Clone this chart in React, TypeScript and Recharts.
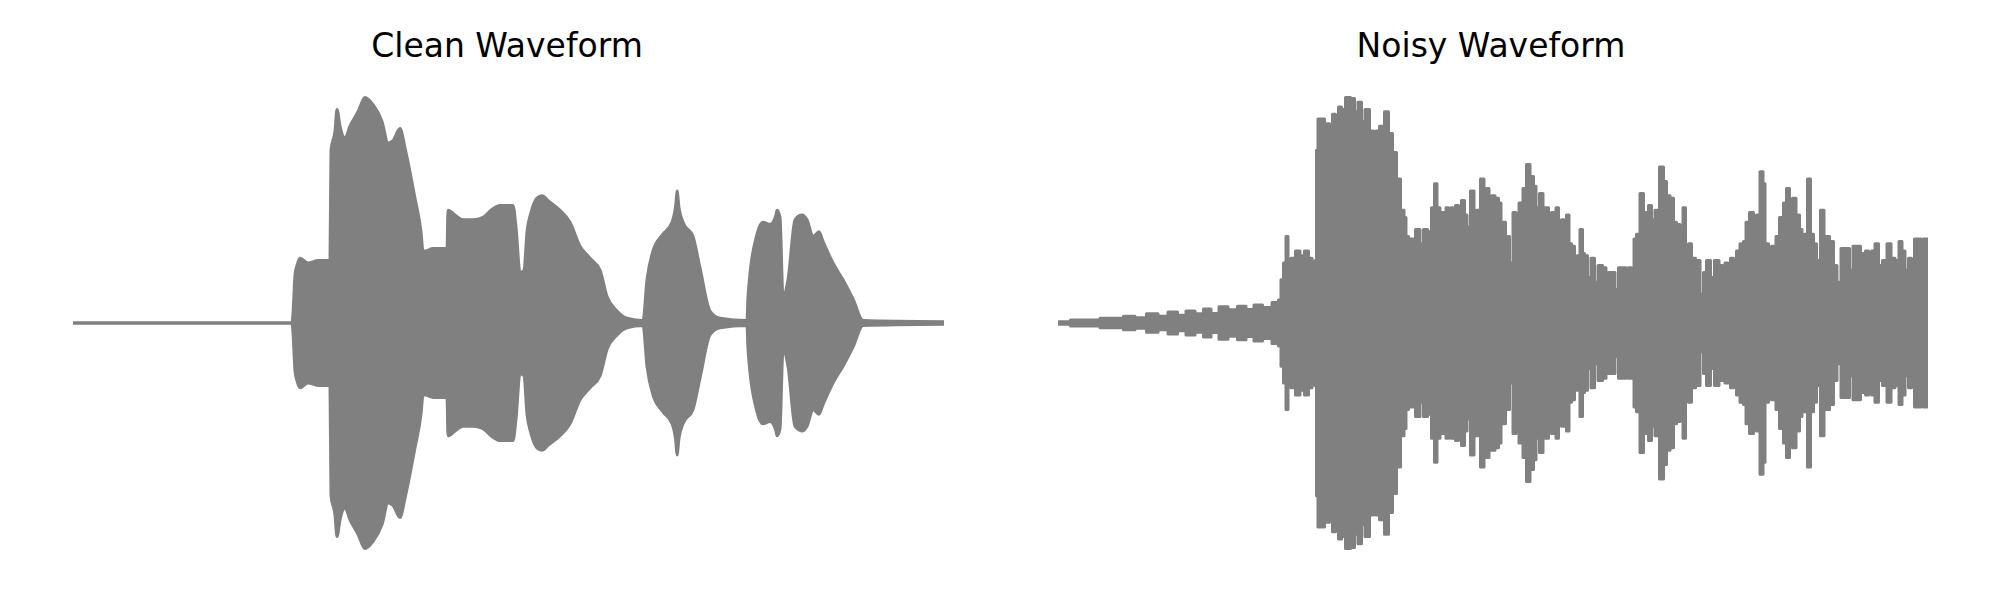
import React from 'react';
import { AreaChart, Area, XAxis, YAxis } from 'recharts';

// envelope of the clean signal: [frame, peak amplitude] on a -1..1 axis
const cleanEnvelope: [number, number][] = [
  [0, 0], [219, 0], [220, 0.04], [222, 0.2], [224, 0.24], [227, 0.27], [235, 0.25], [245, 0.26], [257, 0.26],
  [258, 0.72], [262, 0.8], [264, 0.89], [267, 0.82], [272, 0.77], [277, 0.82], [285, 0.88], [292, 0.94],
  [300, 0.91], [309, 0.84], [315, 0.75], [320, 0.76], [327, 0.81], [332, 0.73], [337, 0.63], [342, 0.52],
  [348, 0.38], [350, 0.3], [352, 0.3], [360, 0.31], [374, 0.31], [375, 0.47], [382, 0.45], [390, 0.43],
  [400, 0.43], [410, 0.44], [418, 0.47], [427, 0.49], [440, 0.49], [443, 0.4], [447, 0.21], [451, 0.22],
  [454, 0.38], [458, 0.46], [464, 0.52], [469, 0.53], [475, 0.51], [487, 0.47], [497, 0.42], [507, 0.32],
  [517, 0.27], [527, 0.22], [534, 0.11], [544, 0.05], [554, 0.02], [570, 0.01], [574, 0.18], [580, 0.3],
  [590, 0.37], [599, 0.42], [603, 0.5], [604, 0.55], [606, 0.48], [610, 0.42], [620, 0.36], [627, 0.23],
  [637, 0.05], [647, 0.02], [674, 0.01], [675, 0.11], [684, 0.37], [690, 0.42], [697, 0.41], [703, 0.45],
  [704, 0.47], [707, 0.44], [710, 0.11], [715, 0.18], [722, 0.43], [729, 0.45], [734, 0.43], [740, 0.36],
  [746, 0.38], [750, 0.34], [760, 0.25], [770, 0.18], [780, 0.1], [790, 0.01], [871, 0.005],
];

// envelope of the noisy signal: [frame, peak amplitude]
const noisyEnvelope: [number, number][] = [
  [0, 0.005], [25, 0.012], [59, 0.02], [72, 0.028], [82, 0.022], [95, 0.039], [105, 0.028], [115, 0.046],
  [124, 0.032], [132, 0.05], [142, 0.039], [149, 0.058], [157, 0.04], [165, 0.068], [175, 0.055], [184, 0.07],
  [192, 0.056], [200, 0.075], [209, 0.065], [219, 0.085],
  [222, 0.096], [224, 0.18], [227, 0.25], [229, 0.36], [231, 0.25], [235, 0.27], [240, 0.3], [244, 0.28],
  [249, 0.3], [252, 0.27], [256, 0.25], [258, 0.26], [259, 0.72], [261, 0.85], [265, 0.85], [268, 0.74],
  [270, 0.83], [273, 0.74], [276, 0.87], [279, 0.85], [282, 0.9], [285, 0.89], [290, 0.94], [295, 0.935],
  [298, 0.88], [302, 0.92], [305, 0.84], [309, 0.89], [314, 0.8], [317, 0.75], [319, 0.8], [324, 0.82],
  [329, 0.88], [332, 0.79], [337, 0.71], [340, 0.6], [345, 0.47], [347, 0.44], [349, 0.36], [352, 0.35],
  [355, 0.35], [360, 0.39], [364, 0.33], [367, 0.39], [372, 0.38], [375, 0.48], [378, 0.58], [380, 0.48],
  [384, 0.46], [387, 0.44], [389, 0.48], [392, 0.42], [394, 0.48], [396, 0.44], [399, 0.49], [402, 0.42],
  [405, 0.51], [408, 0.45], [410, 0.4], [415, 0.55], [417, 0.44], [420, 0.47], [425, 0.6], [427, 0.46],
  [430, 0.56], [432, 0.51], [435, 0.53], [439, 0.52], [442, 0.5], [444, 0.3], [446, 0.42], [449, 0.32],
  [450, 0.36], [453, 0.25], [457, 0.46], [459, 0.42], [463, 0.5], [467, 0.56], [470, 0.66], [474, 0.61],
  [477, 0.57], [479, 0.48], [484, 0.54], [486, 0.48], [489, 0.48], [492, 0.42], [495, 0.46], [497, 0.43],
  [499, 0.48], [502, 0.33], [505, 0.43], [507, 0.35], [510, 0.45], [512, 0.33], [515, 0.32], [518, 0.24],
  [520, 0.28], [524, 0.39], [525, 0.29], [528, 0.28], [531, 0.19], [535, 0.27], [538, 0.17], [542, 0.24],
  [547, 0.23], [549, 0.13], [552, 0.21], [555, 0.21], [559, 0.14], [562, 0.23], [567, 0.23], [569, 0.18],
  [572, 0.23], [575, 0.18], [577, 0.35], [580, 0.37], [584, 0.54], [587, 0.42], [589, 0.46], [592, 0.49],
  [595, 0.43], [599, 0.47], [604, 0.65], [607, 0.59], [610, 0.53], [614, 0.52], [617, 0.42], [620, 0.41],
  [624, 0.33], [626, 0.48], [629, 0.3], [632, 0.33], [635, 0.27], [640, 0.26], [644, 0.12], [647, 0.21],
  [650, 0.26], [655, 0.19], [658, 0.26], [664, 0.24], [665, 0.19], [669, 0.25], [671, 0.2], [674, 0.27],
  [677, 0.24], [680, 0.3], [684, 0.33], [687, 0.34], [689, 0.42], [694, 0.46], [697, 0.37], [700, 0.45],
  [704, 0.63], [706, 0.58], [708, 0.24], [709, 0.33], [712, 0.24], [715, 0.32], [717, 0.26], [719, 0.36],
  [724, 0.44], [727, 0.5], [730, 0.56], [733, 0.4], [736, 0.52], [740, 0.45], [743, 0.39], [745, 0.31],
  [748, 0.37], [751, 0.6], [754, 0.37], [757, 0.33], [760, 0.26], [765, 0.47], [767, 0.3], [769, 0.36],
  [774, 0.34], [777, 0.24], [781, 0.17], [785, 0.31], [790, 0.31], [793, 0.22], [797, 0.32], [801, 0.32],
  [804, 0.25], [806, 0.29], [809, 0.3], [812, 0.24], [815, 0.3], [819, 0.33], [822, 0.24], [827, 0.26],
  [831, 0.33], [835, 0.27], [839, 0.26], [843, 0.34], [845, 0.3], [849, 0.22], [852, 0.27], [855, 0.22],
  [858, 0.35], [862, 0.35], [864, 0.22], [867, 0.35], [870, 0.35],
];

const GRAY = '#808080';
const PAD = 4;

function toRange(env: [number, number][]) {
  return env.map(([t, a]) => ({ t, range: [-a, a] }));
}

function Waveform({
  title,
  envelope,
  curve,
  left,
  center,
}: {
  title: string;
  envelope: [number, number][];
  curve: 'monotone' | 'step';
  left: number;
  center: number;
}) {
  const span = envelope[envelope.length - 1][0];
  return (
    <>
      <div
        style={{
          position: 'absolute',
          left: center - 300,
          top: 29,
          width: 600,
          textAlign: 'center',
          fontFamily: '"DejaVu Sans", sans-serif',
          fontSize: 33,
          lineHeight: 1,
          color: '#000',
        }}
      >
        {title}
      </div>
      <div style={{ position: 'absolute', left: left - PAD, top: 83 - PAD }}>
        <AreaChart
          width={span + PAD * 2}
          height={480 + PAD * 2}
          data={toRange(envelope)}
          margin={{ top: PAD, right: PAD, bottom: PAD, left: PAD }}
        >
          <XAxis dataKey="t" type="number" domain={[0, span]} hide />
          <YAxis type="number" domain={[-1, 1]} hide />
          <Area
            type={curve}
            dataKey="range"
            stroke={GRAY}
            strokeWidth={3}
            strokeLinejoin="round"
            fill={GRAY}
            fillOpacity={1}
            dot={false}
            activeDot={false}
            isAnimationActive={false}
          />
        </AreaChart>
      </div>
    </>
  );
}

export default function App() {
  return (
    <div style={{ position: 'absolute', left: 0, top: 0, width: 2000, height: 600, background: '#fff' }}>
      <Waveform title="Clean Waveform" envelope={cleanEnvelope} curve="monotone" left={73} center={507} />
      <Waveform title="Noisy Waveform" envelope={noisyEnvelope} curve="step" left={1058} center={1491} />
    </div>
  );
}
